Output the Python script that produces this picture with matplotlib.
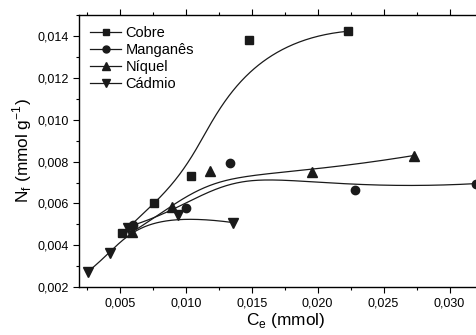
import numpy as np
import matplotlib.pyplot as plt
from matplotlib.ticker import MultipleLocator, FuncFormatter

plt.rcParams['font.family'] = ['Liberation Sans', 'DejaVu Sans']

# dados
cobre_x = [0.00518, 0.00756, 0.01042, 0.01479, 0.0223]
cobre_y = [0.00457, 0.00602, 0.00731, 0.01378, 0.01422]
mn_x = [0.00599, 0.01004, 0.01332, 0.02281, 0.03204]
mn_y = [0.00496, 0.00579, 0.00795, 0.00663, 0.00695]
ni_x = [0.00594, 0.00895, 0.01181, 0.0196, 0.0273]
ni_y = [0.00464, 0.00583, 0.00753, 0.0075, 0.00829]
cd_x = [0.00257, 0.00427, 0.00561, 0.0094, 0.01357]
cd_y = [0.00274, 0.00362, 0.00485, 0.00544, 0.00509]


def bspline(x, y, k=3, n=300):
    # B-spline (tipo Origin): pontos como pontos de controle, extremidades fixas
    P = np.column_stack([x, y])
    m = len(P)
    t = np.concatenate([np.zeros(k), np.linspace(0, 1, m - k + 1), np.ones(k)])
    u = np.linspace(0, 1, n)
    u[-1] = 1 - 1e-12
    N = np.zeros((n, len(t) - 1))
    for i in range(len(t) - 1):
        N[:, i] = (u >= t[i]) & (u < t[i + 1])
    for d in range(1, k + 1):
        Nn = np.zeros((n, len(t) - 1 - d))
        for i in range(len(t) - 1 - d):
            a = (u - t[i]) / (t[i + d] - t[i]) if t[i + d] > t[i] else 0
            b = (t[i + d + 1] - u) / (t[i + d + 1] - t[i + 1]) if t[i + d + 1] > t[i + 1] else 0
            Nn[:, i] = a * N[:, i] + b * N[:, i + 1]
        N = Nn
    C = N @ P
    return C[:, 0], C[:, 1]


fig = plt.figure(figsize=(4.77, 3.35), dpi=100)
# o eixo passa da borda direita da figura (recortado como no original)
ax = fig.add_axes([0.1656, 0.1424, 0.868, 0.8131])

series = [
    (cobre_x, cobre_y, 's', 'Cobre', 5.5),
    (mn_x, mn_y, 'o', 'Manganês', 6),
    (ni_x, ni_y, '^', 'Níquel', 6.5),
    (cd_x, cd_y, 'v', 'Cádmio', 6.5),
]
for x, y, m, nome, ms in series:
    ax.plot(x, y, m, color='#1a1a1a', ms=ms, zorder=3)
    xx, yy = bspline(x, y)
    ax.plot(xx, yy, '-', color='#1a1a1a', lw=0.9)
    ax.plot([], [], '-', marker=m, color='#1a1a1a', ms=ms - 1, lw=0.9, label=nome)

ax.set_xlim(0.0019, 0.0333)
ax.set_ylim(0.002, 0.015)
ax.xaxis.set_major_locator(MultipleLocator(0.005))
ax.xaxis.set_minor_locator(MultipleLocator(0.0025))
ax.yaxis.set_major_locator(MultipleLocator(0.002))
ax.yaxis.set_minor_locator(MultipleLocator(0.001))
fmt = FuncFormatter(lambda v, p: f'{v:.3f}'.replace('.', ','))
ax.xaxis.set_major_formatter(fmt)
ax.yaxis.set_major_formatter(fmt)
ax.tick_params(which='both', direction='out', labelsize=9, width=0.8)
ax.tick_params(which='major', length=4)
ax.tick_params(which='minor', length=2.5)
ax.tick_params(axis='x', which='both', top=True, labeltop=False)
ax.spines['right'].set_visible(False)
for s in ['left', 'bottom', 'top']:
    ax.spines[s].set_linewidth(1.0)

ax.set_xlabel(r'C$_\mathregular{e}$ (mmol)', fontsize=12.4, labelpad=1)
ax.set_ylabel(r'N$_\mathregular{f}$ (mmol g$^\mathregular{-1}$)', fontsize=12.4, labelpad=2)

ax.legend(loc='upper left', frameon=False, fontsize=10.5, handlelength=2.15,
          handletextpad=0.3, labelspacing=0.22, borderaxespad=0.35)

fig.savefig('out.png', dpi=100)
